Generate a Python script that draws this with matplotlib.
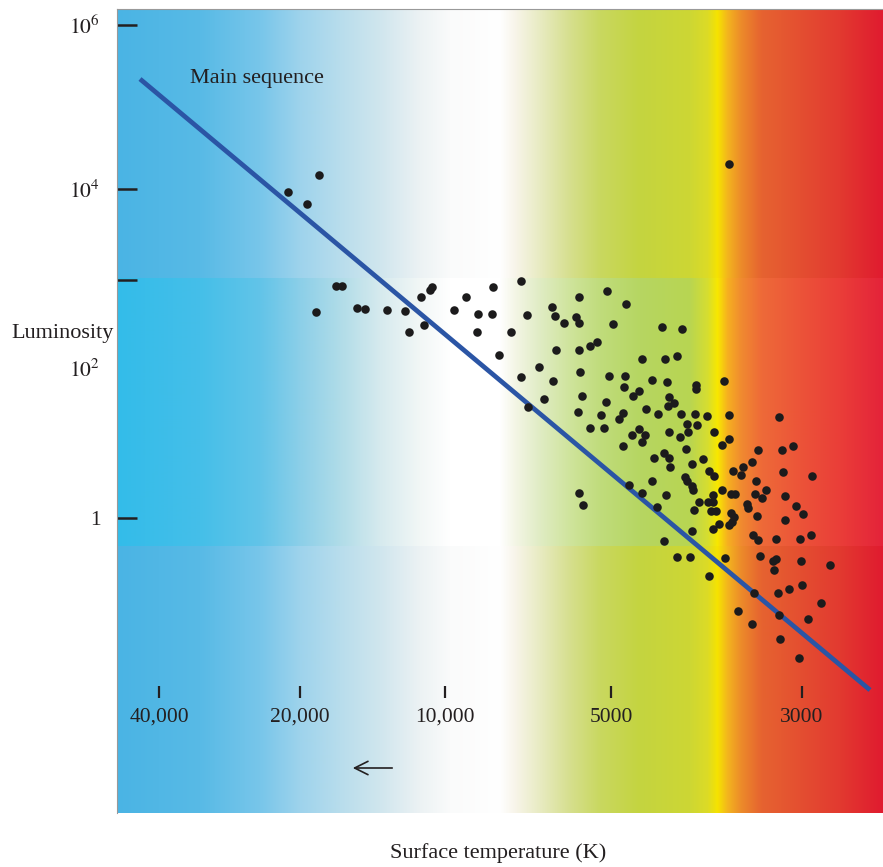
import matplotlib.pyplot as plt
import matplotlib.colors as mcolors
import numpy as np

plt.rcParams['font.family'] = ['Liberation Serif', 'DejaVu Serif']
plt.rcParams['mathtext.fontset'] = 'stix'

# diagram units: x runs hot -> cool (0..766), y runs faint -> bright (0..804)
temp_tick_pos = [42, 183, 328, 494, 685]
temp_tick_labels = ['40,000', '20,000', '10,000', '5000', '3000']
lum_tick_pos = [788, 624, 533, 295]
lum_tick_labels = ['$10^6$', '$10^4$', '', '1']
lum_mid_pos = [445]
lum_mid_labels = ['$10^2$']

# main sequence line end points
ms_x = [23, 753]
ms_y = [734, 123]

# stars
star_x = [171, 190, 202, 219, 225, 199, 240, 248, 270, 288, 292, 304, 307, 313, 315,
          337, 349, 361, 360, 375, 376, 382, 394, 404, 410, 404, 422, 427, 435, 438,
          447, 439, 436, 462, 459, 462, 490, 509, 496, 545, 565, 411, 462, 473, 480,
          463, 465, 461, 489, 484, 473, 487, 492, 508, 507, 516, 522, 502, 506, 529,
          541, 525, 548, 560, 535, 550, 579, 579, 607, 552, 557, 551, 564, 578, 590,
          612, 570, 571, 580, 552, 563, 597, 605, 612, 522, 528, 525, 515, 506, 569,
          537, 547, 552, 553, 575, 586, 592, 597, 568, 570, 575, 576, 535, 549, 605,
          596, 596, 591, 582, 594, 599, 577, 512, 525, 540, 462, 466, 616, 624, 626,
          635, 614, 618, 614, 617, 615, 612, 602, 596, 662, 641, 665, 676, 666, 695,
          639, 638, 645, 649, 668, 630, 631, 640, 679, 686, 668, 575, 636, 641, 659,
          683, 694, 547, 560, 573, 608, 643, 659, 656, 657, 684, 713, 592, 637, 661,
          672, 685, 704, 621, 662, 691, 635, 663, 682, 612]
star_y = [621, 609, 638, 527, 527, 501, 505, 504, 503, 502, 481, 516, 488, 523, 526,
          503, 516, 499, 481, 499, 526, 458, 481, 532, 498, 436, 446, 414, 506, 497,
          490, 463, 432, 516, 496, 490, 522, 509, 489, 486, 484, 406, 463, 467, 471,
          441, 417, 401, 411, 398, 385, 385, 437, 437, 426, 417, 422, 394, 400, 404,
          399, 454, 454, 457, 433, 431, 428, 424, 432, 416, 410, 407, 399, 399, 397,
          398, 389, 381, 388, 381, 376, 381, 368, 374, 384, 378, 371, 378, 367, 364,
          355, 360, 355, 346, 349, 354, 342, 337, 336, 332, 327, 323, 332, 318, 323,
          318, 311, 311, 311, 302, 302, 303, 328, 320, 306, 320, 308, 342, 338, 346,
          351, 319, 319, 300, 296, 291, 288, 289, 284, 396, 363, 363, 367, 341, 337,
          332, 319, 315, 323, 317, 309, 305, 297, 307, 299, 293, 282, 278, 273, 274,
          274, 278, 272, 256, 256, 255, 257, 254, 252, 243, 252, 248, 237, 220, 220,
          224, 228, 210, 202, 198, 194, 189, 174, 155, 649]

# background colour stops along x
outer_pos = [0, 83, 143, 183, 223, 263, 303, 333, 383, 398, 423, 453, 483, 523,
             573, 591, 601, 611, 625, 645, 683, 723, 766]
outer_col = ['#4ab4e4', '#58bae6', '#78c6ea', '#9ed3ec', '#b8ddec', '#d0e6ee',
             '#ecf2f4', '#fafbfb', '#ffffff', '#f8f5ea', '#e8ebc2', '#d6df8e',
             '#c9d860', '#c4d440', '#cdd734', '#dcdb26', '#f6e300', '#f3b51e',
             '#ec8a2a', '#e66330', '#e44f30', '#e23a30', '#e01b2f']
band_col = ['#33bce9', '#45bfe9', '#62c4e8', '#8ccfe8', '#b0dce8', '#d6eaee',
            '#f2f7f6', '#ffffff', '#ffffff', '#f4f6e6', '#e0ecc4', '#cfe49c',
            '#c0dc7c', '#b6d662', '#b8d552', '#d6de30', '#f8e800', '#f6b020',
            '#f08a30', '#ee6a38', '#ec5438', '#ea3e38', '#e4233a']
band_y = (267, 535)


def gradient(cols):
    xs = np.arange(767)
    rgb = np.array([mcolors.to_rgb(c) for c in cols])
    row = np.stack([np.interp(xs, outer_pos, rgb[:, k]) for k in range(3)], axis=-1)
    return row[np.newaxis, :, :]


fig = plt.figure(figsize=(8.83, 8.67), dpi=100)
ax = fig.add_axes([117 / 883, 54 / 867, 766 / 883, 804 / 867])
ax.set_xlim(0, 766)
ax.set_ylim(0, 804)

ax.imshow(gradient(outer_col), extent=(0, 766, 0, 804), aspect='auto', zorder=0)
ax.imshow(gradient(band_col), extent=(0, 766, band_y[0], band_y[1]), aspect='auto', zorder=0)

ax.plot(ms_x, ms_y, color='#2b55a5', lw=3.4, solid_capstyle='butt', zorder=2)
ax.scatter(star_x, star_y, s=38, color='#1c1b1c', linewidths=0, zorder=3)

ax.text(73, 735, 'Main sequence', fontsize=16, color='#231f20', va='center')
ax.annotate('', xy=(233, 45), xytext=(278, 45),
            arrowprops=dict(arrowstyle='->', lw=1.2, color='#231f20', mutation_scale=24))

# axes styling
ax.spines['right'].set_visible(False)
ax.spines['top'].set_color('#999999')
ax.spines['left'].set_color('#999999')
ax.spines['bottom'].set_position(('data', 121))
ax.spines['bottom'].set_color('none')

ax.set_xticks(temp_tick_pos, temp_tick_labels)
ax.set_yticks(lum_tick_pos, lum_tick_labels)
ax.set_yticks(lum_mid_pos, lum_mid_labels, minor=True)
ax.tick_params(axis='x', direction='inout', length=8.6, width=1.6, color='#231f20',
               labelsize=15.5, labelcolor='#231f20', pad=7)
ax.tick_params(axis='y', which='major', direction='in', length=14.5, width=1.8,
               color='#231f20', labelsize=15.5, labelcolor='#231f20', pad=12)
ax.tick_params(axis='y', which='minor', length=0, labelsize=15.5,
               labelcolor='#231f20', pad=12)

ax.set_xlabel('Surface temperature (K)', fontsize=16, color='#231f20')
ax.xaxis.set_label_coords(0.497, -0.038)
ax.set_ylabel('Luminosity', fontsize=16, color='#231f20', rotation=0,
              ha='right', va='center')
ax.yaxis.set_label_coords(-0.004, 0.597)

fig.savefig('out.png', dpi=100)
